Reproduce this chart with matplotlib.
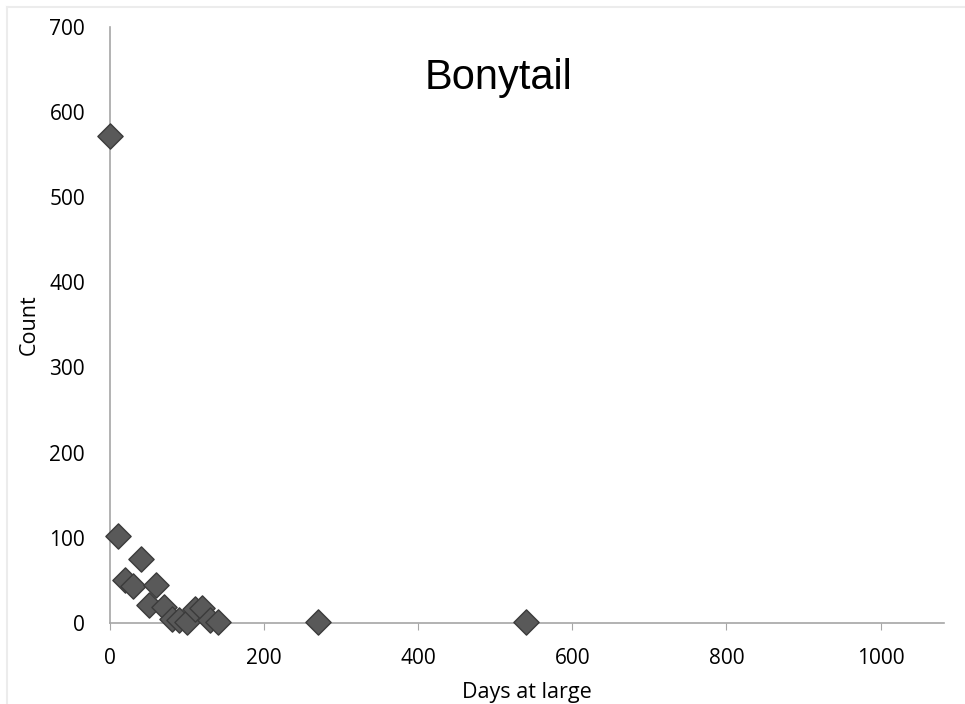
import matplotlib.pyplot as plt
from matplotlib.lines import Line2D

# ==== data ====
days = [0, 10, 20, 30, 40, 50, 60, 70, 80, 90, 100, 110, 120, 130, 140, 270, 540]
count = [572, 102, 50, 43, 75, 21, 45, 19, 5, 4, 1, 16, 18, 4, 1, 1, 1]

x_ticks = [0, 200, 400, 600, 800, 1000]
y_ticks = [0, 100, 200, 300, 400, 500, 600, 700]

plt.rcParams['font.family'] = ['Open Sans', 'DejaVu Sans']

fig = plt.figure(figsize=(9.65, 7.04), dpi=100)
# faint frame along top and left edge
fig.add_artist(Line2D([7/965, 1], [1-7/704, 1-7/704], color='#ececec', lw=1.5))
fig.add_artist(Line2D([7/965, 7/965], [0, 1-7/704], color='#ececec', lw=1.5))

ax = fig.add_axes([0.114, 0.115, 0.864, 0.847])

ax.scatter(days, count, marker='D', s=165, color='#595959',
           edgecolors='#3b3b3b', linewidths=1, zorder=3, clip_on=False)

ax.set_xlim(0, 1082)
ax.set_ylim(0, 700)
ax.set_xticks(x_ticks)
ax.set_yticks(y_ticks)

for side in ['top', 'right']:
    ax.spines[side].set_visible(False)
for side in ['left', 'bottom']:
    ax.spines[side].set_color('#a6a6a6')
    ax.spines[side].set_linewidth(1.2)

ax.tick_params(axis='x', direction='out', length=5, color='#a6a6a6',
               labelsize=15, pad=13)
ax.tick_params(axis='y', length=0, labelsize=15, pad=18)

ax.set_xlabel('Days at large', fontsize=15.5, labelpad=9)
ax.set_ylabel('Count', fontsize=15.5, labelpad=7)

fig.text(0.517, 0.889, 'Bonytail', fontsize=30, family='Liberation Sans',
         ha='center', va='center')

plt.savefig('out.png', dpi=100)
